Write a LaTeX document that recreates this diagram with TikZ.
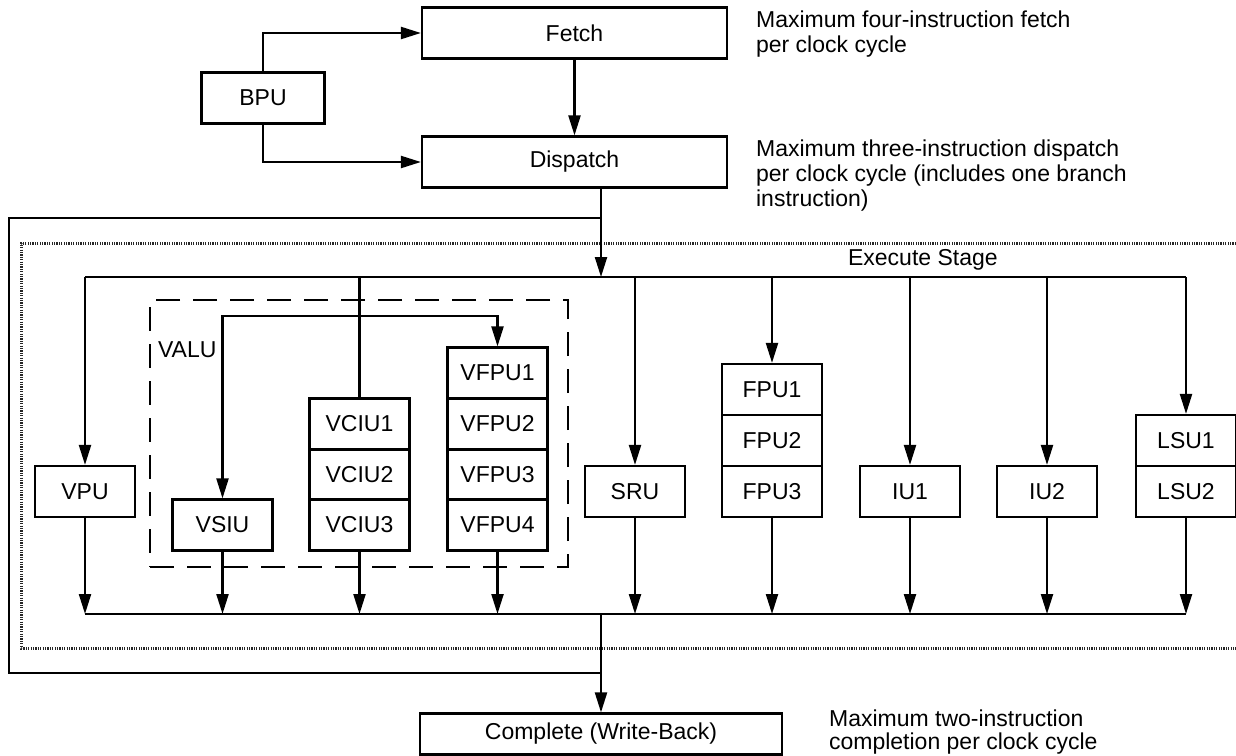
\documentclass[tikz,border=0pt]{standalone}
\usepackage{fontspec}
\setmainfont{Liberation Sans}
\usetikzlibrary{arrows.meta, positioning}

\begin{document}
\begin{tikzpicture}[
    x=0.5pt, y=-0.5pt, line width=1.1pt,
    font=\fontsize{11.5}{12.5}\selectfont,
    unit/.style={rectangle, draw, minimum width=50pt, minimum height=25.5pt, inner sep=0pt},
    stage/.style={rectangle, draw, minimum width=152.5pt, minimum height=25.5pt, inner sep=0pt},
    note/.style={anchor=north west, align=left, inner sep=0pt},
    arrow/.style={-{Triangle[length=10pt, width=6pt]}},
    hatch/.style={line width=1.5pt, dash pattern=on 0.6pt off 0.6pt, black!85},
    groupbox/.style={rectangle, draw, dash pattern=on 12pt off 6.5pt, inner sep=0pt}
]
  \useasboundingbox (0,0) rectangle (1236,755);

  \node[stage] (fetch) at (574.5,33) {Fetch};
  \node[stage] (dispatch) at (574.5,162) {Dispatch};
  \node[unit, minimum width=61.5pt] (bpu) at (263,98) {BPU};
  \node[stage, minimum width=181pt, minimum height=20.5pt] (complete) at (601,734) {Complete (Write-Back)};

  \node[note] (fetchnote) at (755,9.5) {Maximum four-instruction fetch\\per clock cycle};
  \node[note] (dispatchnote) at (755,138.5) {Maximum three-instruction dispatch\\per clock cycle (includes one branch\\instruction)};
  \node[note, font=\fontsize{11.5}{11.5}\selectfont] (completenote) at (828,709) {Maximum two-instruction\\completion per clock cycle};

  \node[anchor=base west, inner sep=0pt] (exlabel) at (847,265) {Execute Stage};

  \node[groupbox, minimum width=209pt, minimum height=133.5pt] (valubox) at (359,433.5) {};
  \node[anchor=west, inner sep=0pt] (valulabel) at (157,350) {VALU};

  \node[unit] (vpu) at (85,491.5) {VPU};
  \node[unit] (vsiu) at (222.5,525) {VSIU};
  \node[unit] (vciu1) at (359.5,424) {VCIU1};
  \node[unit] (vciu2) at (359.5,474.5) {VCIU2};
  \node[unit] (vciu3) at (359.5,525) {VCIU3};
  \node[unit] (vfpu1) at (497.5,373) {VFPU1};
  \node[unit] (vfpu2) at (497.5,424) {VFPU2};
  \node[unit] (vfpu3) at (497.5,474.5) {VFPU3};
  \node[unit] (vfpu4) at (497.5,525) {VFPU4};
  \node[unit] (sru) at (635,491.5) {SRU};
  \node[unit] (fpu1) at (772,389.5) {FPU1};
  \node[unit] (fpu2) at (772,440.5) {FPU2};
  \node[unit] (fpu3) at (772,491.5) {FPU3};
  \node[unit] (iu1) at (910,491.5) {IU1};
  \node[unit] (iu2) at (1047,491.5) {IU2};
  \node[unit] (lsu1) at (1186,440.5) {LSU1};
  \node[unit] (lsu2) at (1186,491.5) {LSU2};

  \coordinate (loopne) at (601,218);
  \coordinate (loopnw) at (9,218);
  \coordinate (loopsw) at (9,673);
  \coordinate (loopse) at (601,673);
  \coordinate (bustop) at (601,277);
  \coordinate (busbot) at (601,614);
  \coordinate (split) at (359.5,316);

  \draw[hatch] (1236,243) -- (21,243) -- (21,648) -- (1236,648);

  \draw[arrow] (fetch) -- (dispatch);
  \draw[arrow] (bpu.north) |- (fetch.west);
  \draw[arrow] (bpu.south) |- (dispatch.west);
  \draw[arrow] (dispatch.south -| bustop) -- (bustop);
  \draw (loopne) -- (loopnw) -- (loopsw) -- (loopse);
  \draw[arrow] (busbot) -- (complete.north);

  \draw (vpu.north |- bustop) -- (lsu1.north |- bustop);
  \draw[arrow] (vpu.north |- bustop) -- (vpu.north);
  \draw (vciu1.north |- bustop) -- (vciu1.north);
  \draw[arrow] (split) -| (vsiu.north);
  \draw[arrow] (split) -| (vfpu1.north);
  \draw[arrow] (sru.north |- bustop) -- (sru.north);
  \draw[arrow] (fpu1.north |- bustop) -- (fpu1.north);
  \draw[arrow] (iu1.north |- bustop) -- (iu1.north);
  \draw[arrow] (iu2.north |- bustop) -- (iu2.north);
  \draw[arrow] (lsu1.north |- bustop) -- (lsu1.north);

  \draw (vpu.south |- busbot) -- (lsu2.south |- busbot);
  \draw[arrow] (vpu.south) -- (vpu.south |- busbot);
  \draw[arrow] (vsiu.south) -- (vsiu.south |- busbot);
  \draw[arrow] (vciu3.south) -- (vciu3.south |- busbot);
  \draw[arrow] (vfpu4.south) -- (vfpu4.south |- busbot);
  \draw[arrow] (sru.south) -- (sru.south |- busbot);
  \draw[arrow] (fpu3.south) -- (fpu3.south |- busbot);
  \draw[arrow] (iu1.south) -- (iu1.south |- busbot);
  \draw[arrow] (iu2.south) -- (iu2.south |- busbot);
  \draw[arrow] (lsu2.south) -- (lsu2.south |- busbot);
\end{tikzpicture}
\end{document}
